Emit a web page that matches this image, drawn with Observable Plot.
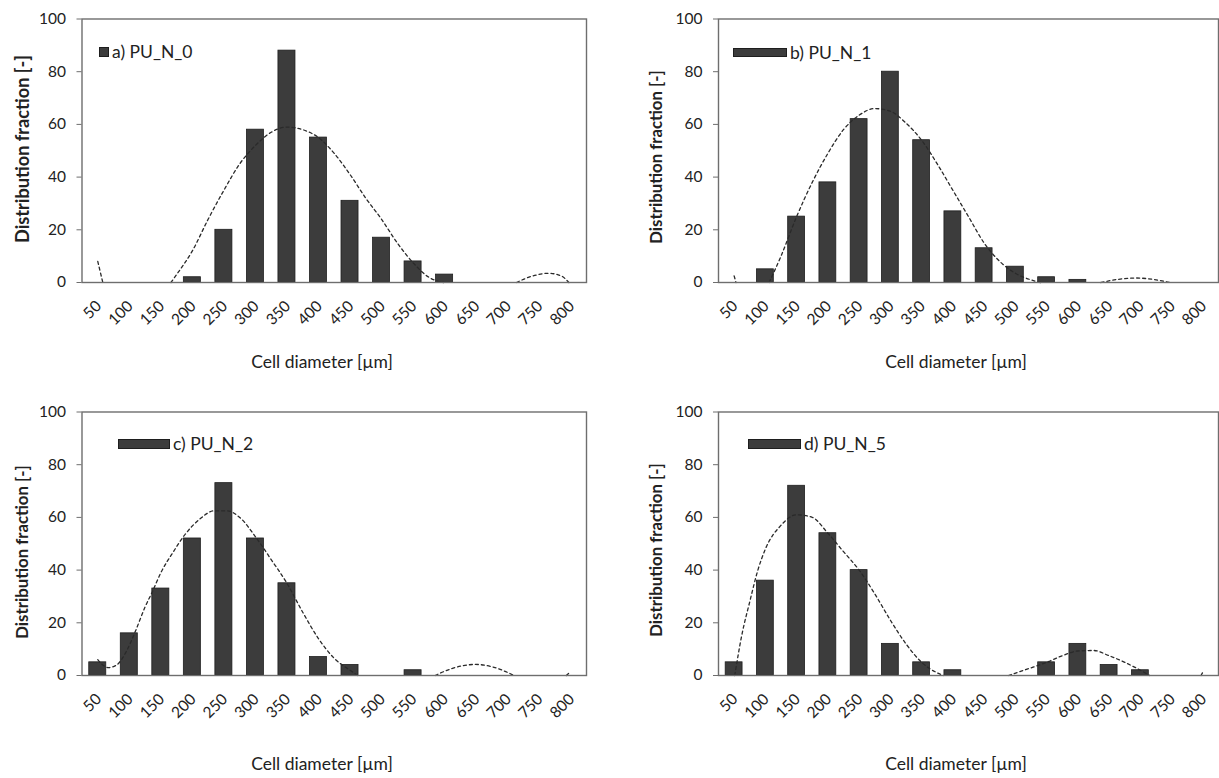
<!DOCTYPE html>
<html><head><meta charset="utf-8">
<script src="https://cdn.jsdelivr.net/npm/d3@7"></script>
<script src="https://cdn.jsdelivr.net/npm/@observablehq/plot@0.6"></script>
<style>
html,body{margin:0;padding:0;background:#fff;overflow:hidden;}
#root{position:relative;width:1219px;height:778px;font-family:Lato,"Open Sans",sans-serif;color:#222;}
.panel{position:absolute;}
.ylab{position:absolute;font-weight:bold;white-space:nowrap;transform:translate(-50%,-50%) rotate(-90deg);line-height:1;}
.xlab{position:absolute;font-size:17.5px;white-space:nowrap;transform:translate(-50%,0);line-height:1;}
.leg{position:absolute;display:flex;align-items:center;font-size:17.5px;white-space:nowrap;line-height:1;}
.sw{display:inline-block;background:#3c3c3c;border:1px solid #1e1e1e;box-sizing:border-box;margin-right:3px;}
</style></head><body><div id="root"></div>
<script>
// ---- data ----
const diameters = [50,100,150,200,250,300,350,400,450,500,550,600,650,700,750,800];
const yTicks = [0,20,40,60,80,100];
const xTitle = "Cell diameter [µm]";
const yTitle = "Distribution fraction [-]";
const seriesNames = ["a) PU_N_0","b) PU_N_1","c) PU_N_2","d) PU_N_5"];

const fracA = [0,0,0,2,20,58,88,55,31,17,8,3,0,0,0,0];
const fracB = [0,5,25,38,62,80,54,27,13,6,2,1,0,0,0,0];
const fracC = [5,16,33,52,73,52,35,7,4,0,2,0,0,0,0,0];
const fracD = [5,36,72,54,40,12,5,2,0,0,5,12,4,2,0,0];

// fitted (dashed) trend curves, visible segments [diameter, value]
const fitA = [
  [[50,8],[58,0]],
  [[166,0],[175,3],[200,12],[225,24],[250,35],[275,45],[300,52],[325,57],[350,59],[375,58],[400,55],[425,49],[450,41],[475,32],[500,24],[525,15],[550,7.5],[575,2],[598,0]],
  [[714,0],[740,2.5],[765,3.5],[785,2.5],[797,0]]
];
const fitB = [
  [[50,2.5],[53,0]],
  [[106,0],[125,10],[150,25],[175,38],[200,49],[225,58],[250,63.5],[275,66],[300,65],[325,60.5],[350,54],[375,45],[400,35],[425,25],[450,15],[475,8],[500,3.5],[525,1],[540,0]],
  [[637,0],[665,1.2],[694,1.7],[720,1.2],[747,0]]
];
const fitC = [
  [[50,6],[58,4],[67,3],[80,4],[95,9],[110,17],[125,26],[137,32],[150,39],[170,47],[190,54],[210,59],[235,62.5],[255,62.5],[275,60],[302,52],[325,44],[350,35],[375,24],[400,14],[425,6.5],[450,2],[462,0]],
  [[585,0],[610,2.5],[649,4.2],[680,3],[710,0]],
  [[793,0],[800,1.5]]
];
const fitD = [
  [[51,0],[62,15],[75,28],[88,40],[100,48],[125,57],[150,61],[175,60],[200,54],[225,47],[250,40],[275,31],[300,21],[325,12],[350,5],[375,1],[385,0]],
  [[489,0],[520,2.5],[550,5],[575,7.5],[600,9.3],[625,9.5],[650,7.5],[675,5],[700,2],[715,0]],
  [[797,0],[800,1.3]]
];

// ---- layout ----
const root = document.getElementById("root");
const panels = [
  {frac: fracA, fit: fitA, name: seriesNames[0], left: 0,   top: 0,   width: 600, height: 400, mL: 81.5, mR: 14, mT: 18.5, mB: 118,
   leg: {x: 99, y: 47, w: 10, h: 10}, yl: {x: 22, y: 149, fs: 18.2}, xl: {x: 322, y: 353}},
  {frac: fracB, fit: fitB, name: seriesNames[1], left: 620, top: 0,   width: 599, height: 400, mL: 98, mR: 1, mT: 18.5, mB: 118,
   leg: {x: 733, y: 48, w: 54, h: 9}, yl: {x: 656, y: 157, fs: 16.8}, xl: {x: 956, y: 353}},
  {frac: fracC, fit: fitC, name: seriesNames[2], left: 0,   top: 393, width: 600, height: 385, mL: 81.5, mR: 14, mT: 18.5, mB: 103,
   leg: {x: 118, y: 439, w: 52, h: 10}, yl: {x: 22, y: 552, fs: 16.8}, xl: {x: 322, y: 755}},
  {frac: fracD, fit: fitD, name: seriesNames[3], left: 620, top: 393, width: 599, height: 385, mL: 98, mR: 1, mT: 18.5, mB: 103,
   leg: {x: 748, y: 439, w: 53, h: 10}, yl: {x: 656, y: 550, fs: 16.8}, xl: {x: 956, y: 755}}
];

for (const p of panels) {
  const bars = diameters.map((d, i) => ({d, v: p.frac[i]})).filter(r => r.v > 0);
  const curve = p.fit.flatMap((seg, k) => seg.map(([x, y]) => ({x, y, seg: k})));
  const chart = Plot.plot({
    width: p.width, height: p.height,
    marginLeft: p.mL, marginRight: p.mR, marginTop: p.mT, marginBottom: p.mB,
    style: {fontFamily: "Lato, 'Open Sans', sans-serif", fontSize: "15.5px", color: "#222", background: "transparent", overflow: "visible"},
    x: {domain: [25, 825]},
    y: {domain: [0, 100]},
    marks: [
      Plot.rectY(bars, {x1: r => r.d - 13.5, x2: r => r.d + 13.5, y: "v", fill: "#3c3c3c", stroke: "#1e1e1e", strokeWidth: 0.8}),
      Plot.line(curve, {x: "x", y: "y", z: "seg", curve: "monotone-x", stroke: "#2a2a2a", strokeWidth: 1.3, strokeDasharray: "3,3"}),
      Plot.frame({stroke: "#6e6e6e", strokeWidth: 1.4}),
      Plot.axisY({ticks: yTicks, tickSize: 5, tickPadding: 11, label: null, stroke: "#6e6e6e"}),
      Plot.axisX({ticks: diameters, tickSize: 0, tickRotate: -45, tickPadding: 21, dx: 1, label: null, tickFormat: d => String(d)})
    ]
  });
  chart.classList.add("panel");
  chart.style.left = p.left + "px";
  chart.style.top = p.top + "px";
  root.appendChild(chart);

  const leg = document.createElement("div");
  leg.className = "leg";
  leg.style.left = p.leg.x + "px";
  leg.style.top = (p.leg.y + p.leg.h / 2 - 9) + "px";
  leg.style.height = "18px";
  const sw = document.createElement("span");
  sw.className = "sw";
  sw.style.width = p.leg.w + "px";
  sw.style.height = p.leg.h + "px";
  leg.appendChild(sw);
  leg.appendChild(document.createTextNode(p.name));
  root.appendChild(leg);

  const yl = document.createElement("div");
  yl.className = "ylab";
  yl.style.left = p.yl.x + "px";
  yl.style.top = p.yl.y + "px";
  yl.style.fontSize = p.yl.fs + "px";
  yl.textContent = yTitle;
  root.appendChild(yl);

  const xl = document.createElement("div");
  xl.className = "xlab";
  xl.style.left = p.xl.x + "px";
  xl.style.top = p.xl.y + "px";
  xl.textContent = xTitle;
  root.appendChild(xl);
}
</script>
</body></html>
